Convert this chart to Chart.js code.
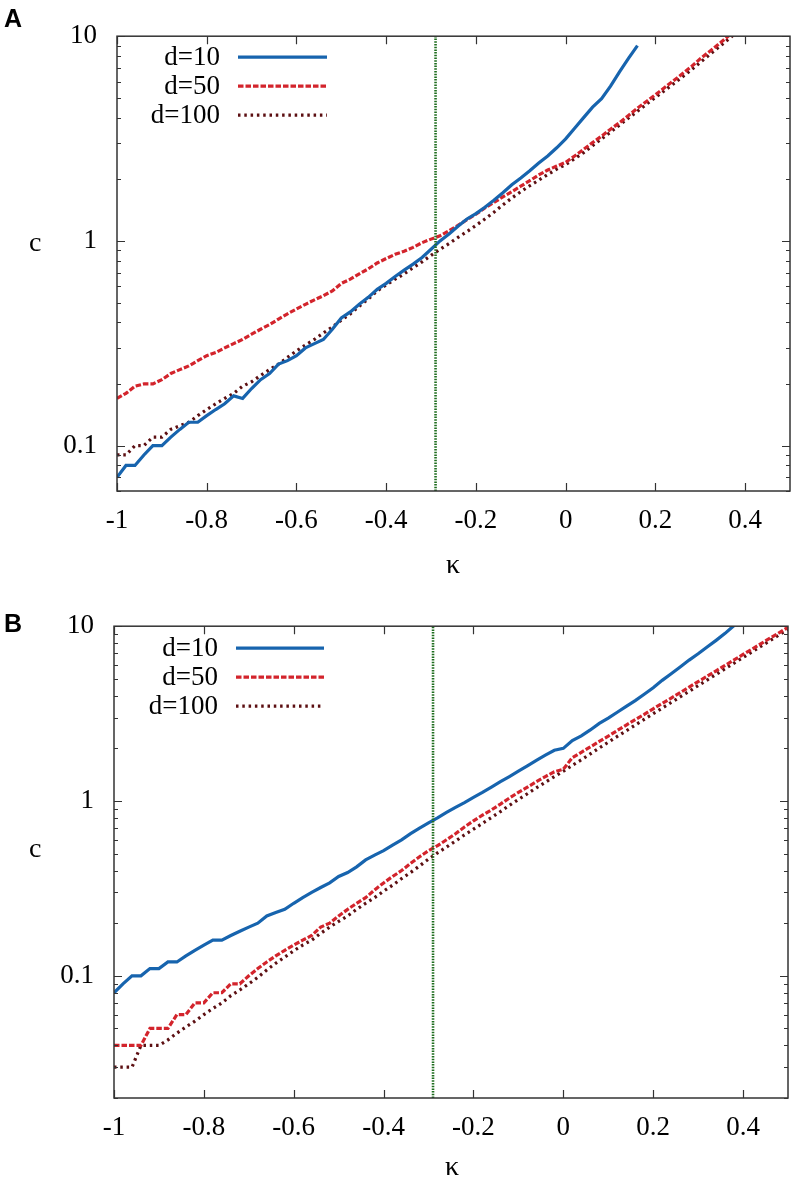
<!DOCTYPE html>
<html><head><meta charset="utf-8">
<script src="https://cdn.jsdelivr.net/npm/chart.js@4.4.0/dist/chart.umd.min.js"></script>
<style>
html,body{margin:0;padding:0;background:#fff;}
body{width:793px;height:1183px;position:relative;overflow:hidden;}
canvas{position:absolute;left:0;}
#ca{top:0;}
#cb{top:590px;}
.lbl{position:absolute;font-family:"Liberation Sans",Arial,sans-serif;font-weight:bold;font-size:25px;line-height:25px;color:#000;}
.ax{position:absolute;font-family:"Liberation Serif","Times New Roman",serif;font-size:28px;line-height:28px;color:#000;}
</style></head><body>
<canvas id="ca" width="793" height="590"></canvas>
<canvas id="cb" width="793" height="593"></canvas>
<div class="lbl" style="left:4px;top:6px">A</div>
<div class="lbl" style="left:4px;top:611px">B</div>
<div class="ax" style="left:29px;top:228px">c</div>
<div class="ax" style="left:29px;top:834px">c</div>
<div class="ax" style="left:446px;top:550px">κ</div>
<div class="ax" style="left:445px;top:1152px">κ</div>
<script>
const kappa = [-1.00,-0.98,-0.96,-0.94,-0.92,-0.90,-0.88,-0.86,-0.84,-0.82,-0.80,-0.78,-0.76,-0.74,-0.72,-0.70,-0.68,-0.66,-0.64,-0.62,-0.60,-0.58,-0.56,-0.54,-0.52,-0.50,-0.48,-0.46,-0.44,-0.42,-0.40,-0.38,-0.36,-0.34,-0.32,-0.30,-0.28,-0.26,-0.24,-0.22,-0.20,-0.18,-0.16,-0.14,-0.12,-0.10,-0.08,-0.06,-0.04,-0.02,0.00,0.02,0.04,0.06,0.08,0.10,0.12,0.14,0.16,0.18,0.20,0.22,0.24,0.26,0.28,0.30,0.32,0.34,0.36,0.38,0.40,0.42,0.44,0.46,0.48,0.50];
const seriesLabels = ['d=10','d=50','d=100'];
const kappaCritical = -0.29;
const xTickValues = [-1,-0.8,-0.6,-0.4,-0.2,0,0.2,0.4];
const yTickValues = [0.1,1,10];

// Panel A
const a_d10 = [0.07,0.08,0.08,0.09,0.10,0.10,0.11,0.12,0.13,0.13,0.14,0.15,0.16,0.175,0.17,0.19,0.21,0.225,0.25,0.26,0.275,0.30,0.315,0.33,0.37,0.42,0.45,0.49,0.53,0.58,0.62,0.67,0.72,0.77,0.83,0.91,1.00,1.08,1.18,1.28,1.36,1.46,1.58,1.72,1.88,2.03,2.20,2.40,2.60,2.85,3.15,3.55,4.00,4.50,4.95,5.70,6.70,7.80,9.00,null,null,null,null,null,null,null,null,null,null,null,null,null,null,null,null,null];
const a_d50 = [0.17,0.18,0.195,0.20,0.20,0.21,0.225,0.235,0.245,0.26,0.275,0.285,0.30,0.315,0.33,0.35,0.37,0.39,0.415,0.44,0.465,0.49,0.515,0.54,0.57,0.62,0.65,0.69,0.73,0.78,0.82,0.86,0.89,0.93,0.98,1.02,1.06,1.12,1.19,1.27,1.35,1.45,1.54,1.64,1.74,1.85,1.97,2.10,2.22,2.32,2.42,2.60,2.80,3.02,3.25,3.51,3.78,4.10,4.45,4.80,5.17,5.60,6.05,6.55,7.10,7.76,8.40,9.10,9.90,10.8,null,null,null,null,null,null];
const a_d100 = [0.09,0.09,0.10,0.10,0.11,0.11,0.12,0.125,0.13,0.14,0.15,0.16,0.17,0.18,0.195,0.205,0.22,0.235,0.25,0.27,0.29,0.31,0.33,0.355,0.38,0.41,0.44,0.48,0.52,0.57,0.61,0.65,0.69,0.74,0.79,0.85,0.91,0.97,1.04,1.11,1.19,1.28,1.38,1.50,1.62,1.74,1.86,1.98,2.11,2.24,2.36,2.52,2.70,2.92,3.15,3.40,3.68,3.98,4.30,4.65,5.02,5.42,5.85,6.32,6.85,7.45,8.10,8.80,9.55,10.4,null,null,null,null,null,null];

// Panel B
const b_d10 = [0.08,0.09,0.10,0.10,0.11,0.11,0.12,0.12,0.13,0.14,0.15,0.16,0.16,0.17,0.18,0.19,0.20,0.22,0.23,0.24,0.26,0.28,0.30,0.32,0.34,0.37,0.39,0.42,0.46,0.49,0.52,0.56,0.60,0.65,0.70,0.75,0.80,0.86,0.92,0.98,1.05,1.12,1.20,1.29,1.38,1.48,1.59,1.71,1.83,1.95,2.00,2.22,2.36,2.55,2.78,2.98,3.22,3.48,3.75,4.08,4.45,4.90,5.35,5.85,6.40,6.95,7.60,8.30,9.10,10.1,null,null,null,null,null,null];
const b_d50 = [0.04,0.04,0.04,0.04,0.05,0.05,0.05,0.06,0.06,0.07,0.07,0.08,0.08,0.09,0.09,0.10,0.11,0.12,0.13,0.14,0.15,0.16,0.17,0.19,0.20,0.22,0.24,0.26,0.28,0.31,0.34,0.37,0.40,0.44,0.48,0.52,0.555,0.60,0.65,0.71,0.77,0.83,0.89,0.96,1.04,1.12,1.20,1.29,1.38,1.47,1.52,1.77,1.90,2.04,2.19,2.35,2.53,2.72,2.92,3.13,3.37,3.62,3.88,4.17,4.48,4.82,5.17,5.56,5.97,6.41,6.89,7.40,7.95,8.54,9.17,9.85];
const b_d100 = [0.03,0.03,0.03,0.04,0.04,0.04,0.043,0.047,0.051,0.055,0.06,0.065,0.07,0.077,0.083,0.09,0.098,0.108,0.118,0.128,0.139,0.15,0.16,0.175,0.19,0.205,0.22,0.24,0.26,0.28,0.305,0.33,0.36,0.39,0.425,0.465,0.505,0.545,0.59,0.64,0.69,0.745,0.805,0.87,0.945,1.02,1.10,1.19,1.28,1.38,1.48,1.60,1.72,1.86,2.01,2.17,2.34,2.52,2.72,2.93,3.16,3.40,3.66,3.94,4.24,4.57,4.92,5.30,5.71,6.15,6.62,7.13,7.68,8.27,8.91,9.60];

const styles = [
  {color:'#1764ae', width:3.2, dash:[]},
  {color:'#d3242c', width:3.2, dash:[5.5,2]},
  {color:'#5c0f12', width:3.2, dash:[2.5,3.8]}
];
const vlineColor = '#1f6e1f';
const serif = '"Liberation Serif","Times New Roman",serif';

Chart.defaults.font.family = serif;
Chart.defaults.font.size = 27;
Chart.defaults.color = '#000';

function pts(vals){ return kappa.map((k,i)=>({x:k,y:vals[i]})); }

const framePlugin = {
  id:'frame',
  afterDraw(chart){
    const {ctx, chartArea:a, scales:{x,y}} = chart;
    const o = chart.options.plugins.frame;
    ctx.save();
    ctx.strokeStyle = '#333';
    ctx.lineWidth = 1.5;
    ctx.strokeRect(a.left, a.top, a.right-a.left, a.bottom-a.top);
    ctx.lineWidth = 1.2;
    ctx.beginPath();
    xTickValues.forEach(v=>{
      const px = Math.round(x.getPixelForValue(v))+0.5;
      ctx.moveTo(px,a.bottom); ctx.lineTo(px,a.bottom-8);
      ctx.moveTo(px,a.top); ctx.lineTo(px,a.top+8);
    });
    for (let e=-2;e<=1;e++){
      for (let m=1;m<=9;m++){
        const v = m*Math.pow(10,e);
        if (v < y.min*0.999 || v > y.max*1.001) continue;
        const len = m===1 ? 8 : 4;
        const py = Math.round(y.getPixelForValue(v))+0.5;
        ctx.moveTo(a.left,py); ctx.lineTo(a.left+len,py);
        ctx.moveTo(a.right,py); ctx.lineTo(a.right-len,py);
      }
    }
    ctx.stroke();
    // legend
    ctx.font = '27px ' + serif;
    ctx.textAlign = 'right';
    ctx.textBaseline = 'middle';
    seriesLabels.forEach((lab,i)=>{
      const yy = a.top + o.legendTop + i*29;
      ctx.fillStyle = '#000';
      ctx.fillText(lab, a.left + o.legendTextRight, yy+1);
      const st = styles[i];
      ctx.strokeStyle = st.color; ctx.lineWidth = st.width; ctx.setLineDash(st.dash);
      ctx.beginPath();
      ctx.moveTo(a.left + o.legendLineStart, yy);
      ctx.lineTo(a.left + o.legendLineEnd, yy);
      ctx.stroke();
      ctx.setLineDash([]);
    });
    ctx.restore();
  }
};

function makeChart(id, data, yMin, pad, yWidth, xHeight, leg){
  const ds = data.map((vals,i)=>({
    label: seriesLabels[i],
    data: pts(vals),
    showLine: true,
    borderColor: styles[i].color,
    borderWidth: styles[i].width,
    borderDash: styles[i].dash,
    borderCapStyle: 'butt',
    borderJoinStyle: 'miter',
    pointRadius: 0,
    fill: false,
    tension: 0,
    spanGaps: false,
    clip: 0
  }));
  ds.unshift({
    label: 'kappa*',
    data: [{x:kappaCritical,y:yMin},{x:kappaCritical,y:10}],
    showLine: true,
    borderColor: vlineColor,
    borderWidth: 2.6,
    borderDash: [1.5,1.2],
    pointRadius: 0,
    clip: 0
  });
  return new Chart(document.getElementById(id), {
    type: 'scatter',
    data: {datasets: ds},
    plugins: [framePlugin],
    options: {
      responsive: false,
      animation: false,
      devicePixelRatio: 1,
      layout: {padding: pad},
      plugins: {legend:{display:false}, tooltip:{enabled:false}, frame: leg},
      scales: {
        x: {
          type: 'linear', min: -1, max: 0.5,
          grid: {display:false, drawTicks:false},
          border: {display:false},
          afterBuildTicks: s => { s.ticks = xTickValues.map(v=>({value:v})); },
          afterFit: s => { s.height = xHeight; },
          ticks: {padding: 14, maxRotation: 0, callback: v => String(Math.round(v*10)/10)}
        },
        y: {
          type: 'logarithmic', min: yMin, max: 10,
          grid: {display:false, drawTicks:false},
          border: {display:false},
          afterBuildTicks: s => { s.ticks = yTickValues.map(v=>({value:v})); },
          afterFit: s => { s.width = yWidth; },
          ticks: {padding: 20, callback: v => String(v)}
        }
      }
    }
  });
}

makeChart('ca', [a_d10, a_d50, a_d100], 0.06, {top:12, right:3, left:0, bottom:0}, 117, 99,
  {legendTop:21, legendTextRight:103, legendLineStart:121, legendLineEnd:210});
makeChart('cb', [b_d10, b_d50, b_d100], 0.02, {top:28, right:5, left:0, bottom:0}, 114, 85,
  {legendTop:22, legendTextRight:104, legendLineStart:122, legendLineEnd:210});
</script>
</body></html>
